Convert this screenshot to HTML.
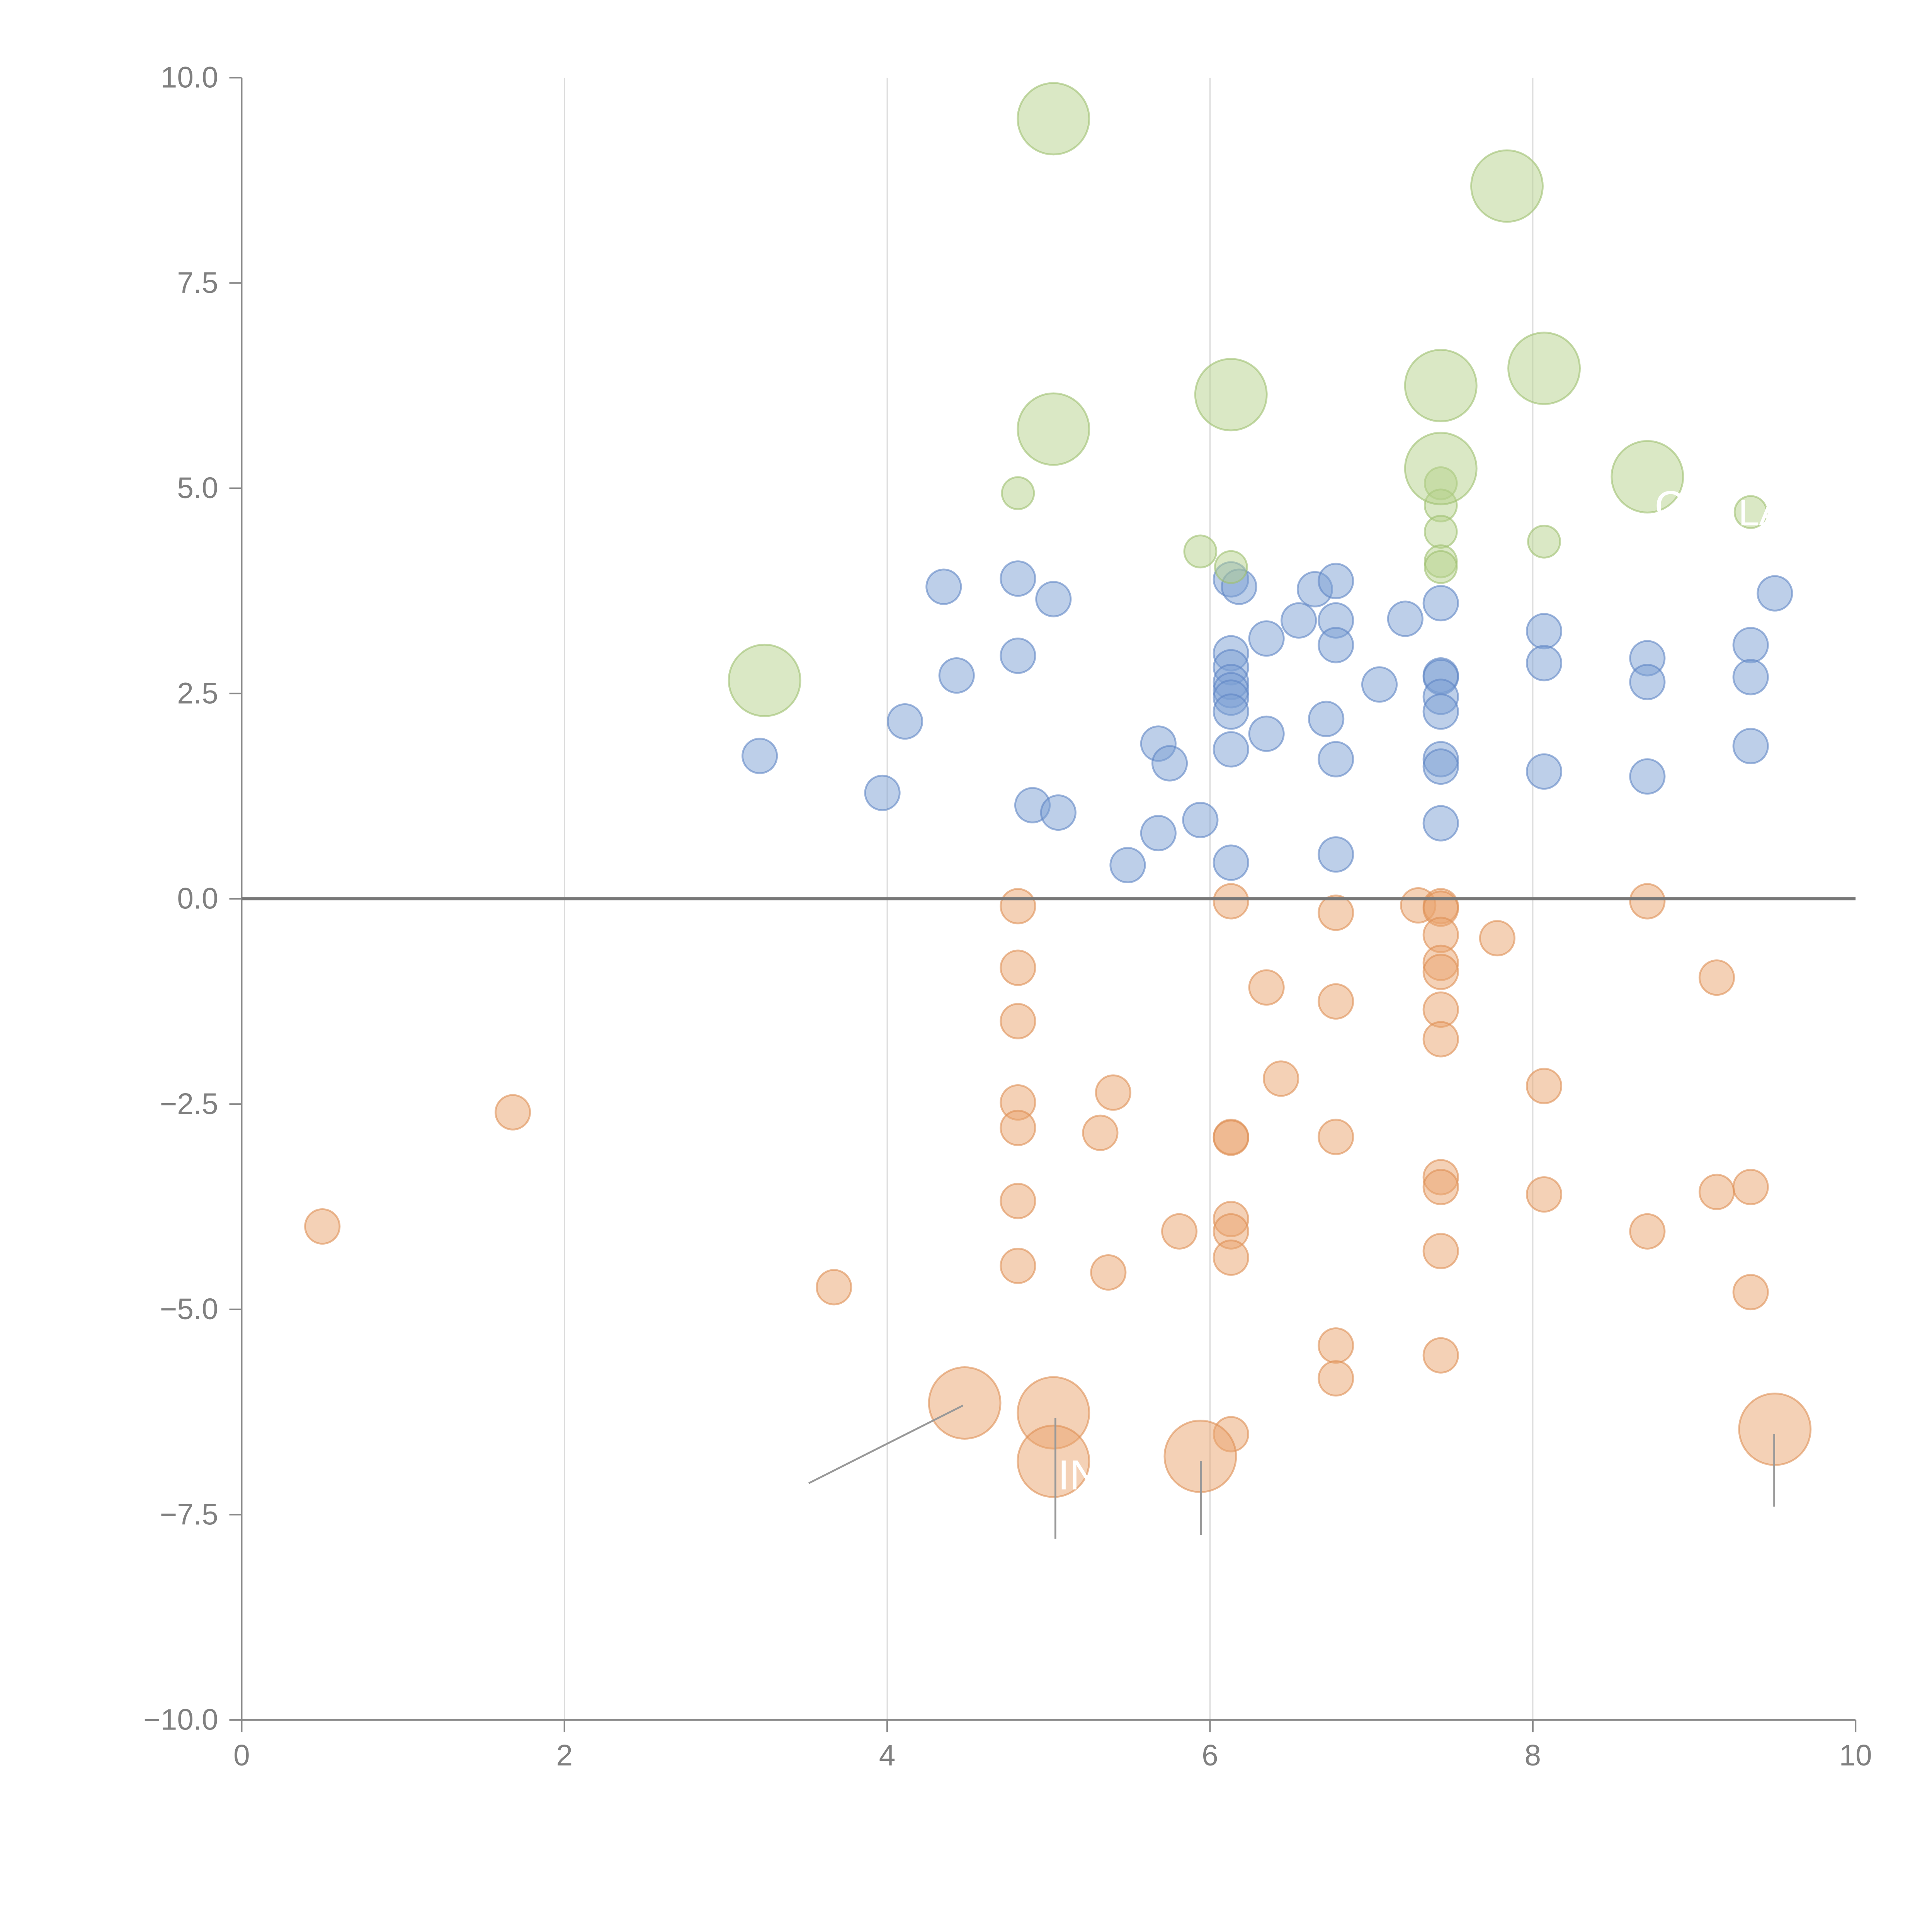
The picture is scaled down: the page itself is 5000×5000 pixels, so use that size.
<!DOCTYPE html>
<html><head><meta charset="utf-8"><style>html,body{margin:0;padding:0;background:#fff}svg{display:block}</style></head>
<body>
<svg id="chart" width="5000" height="5000" viewBox="0 0 1567 1567" xmlns="http://www.w3.org/2000/svg" font-family="'Liberation Sans', sans-serif">
<g id="grid"></g>
<g id="marks"></g>
<g id="axes"></g>
</svg>
<script>
const xTicks = [0, 2, 4, 6, 8, 10];
const yTicks = [-10, -7.5, -5, -2.5, 0, 2.5, 5, 7.5, 10];
const blueX = [3.21,3.97,4.11,4.35,4.43,4.81,4.81,5.03,4.90,5.06,5.49,5.68,5.75,5.68,5.94,6.13,6.18,6.13,6.13,6.13,6.13,6.13,6.13,6.13,6.13,6.35,6.35,6.55,6.65,6.78,6.78,6.78,6.78,6.78,6.72,7.05,7.21,7.43,7.43,7.43,7.43,7.43,7.43,7.43,7.43,8.07,8.07,8.07,8.71,8.71,8.71,9.35,9.35,9.35,9.50];
const blueY = [1.74,1.29,2.16,3.80,2.72,3.90,2.96,3.65,1.14,1.05,0.41,1.89,1.65,0.80,0.96,3.89,3.80,2.99,2.82,2.64,2.54,2.45,2.28,1.82,0.44,3.17,2.01,3.39,3.77,3.87,3.39,3.09,1.70,0.54,2.19,2.61,3.41,3.60,2.72,2.70,2.46,2.28,1.70,1.61,0.92,3.26,2.87,1.55,2.93,2.64,1.49,3.09,2.70,1.86,3.72];
const orangeX = [0.50,1.68,3.67,4.81,4.81,4.81,4.81,4.81,4.81,4.81,5.32,5.40,5.37,5.81,6.13,6.13,6.13,6.13,6.13,6.13,6.13,6.35,6.44,6.78,6.78,6.78,6.78,6.78,7.29,7.43,7.43,7.43,7.43,7.43,7.43,7.43,7.43,7.43,7.43,7.43,7.78,8.07,8.07,8.71,8.71,9.14,9.14,9.35,9.35];
const orangeY = [-3.99,-2.60,-4.73,-0.09,-0.84,-1.49,-2.48,-2.79,-3.68,-4.47,-2.85,-2.36,-4.55,-4.05,-0.03,-2.90,-2.91,-3.90,-4.05,-4.37,-6.52,-1.08,-2.19,-0.17,-1.25,-2.90,-5.44,-5.84,-0.08,-0.09,-0.12,-0.44,-0.78,-0.89,-1.35,-1.71,-3.39,-3.51,-4.29,-5.56,-0.48,-2.28,-3.60,-0.03,-4.05,-0.96,-3.57,-3.51,-4.79];
const orangeBigX = [4.48,5.03,5.03,5.94,9.50];
const orangeBigY = [-6.14,-6.26,-6.85,-6.79,-6.46];
const greenX = [4.81,5.94,6.13,7.43,7.43,7.43,7.43,7.43,8.07,9.35];
const greenY = [4.94,4.23,4.04,5.06,4.79,4.47,4.11,4.04,4.35,4.71];
const greenBigX = [5.03,7.84,6.13,7.43,8.07,5.03,7.43,8.71,3.24];
const greenBigY = [9.50,8.68,6.14,6.25,6.46,5.72,5.24,5.14,2.66];

const NS = 'http://www.w3.org/2000/svg';
const X0 = 196, X1 = 1505, YT = 63, YB = 1395;
function sx(v){ return X0 + (v - 0) / 10 * (X1 - X0); }
function sy(v){ return YB - (v + 10) / 20 * (YB - YT); }
function mk(tag, attrs, parent){ const e = document.createElementNS(NS, tag); for (const k in attrs) e.setAttribute(k, attrs[k]); parent.appendChild(e); return e; }
const grid = document.getElementById('grid'), marks = document.getElementById('marks'), axes = document.getElementById('axes');

xTicks.forEach(t => {
  if (t > 0 && t < 10) {
    const g = mk('line', {x1: sx(t), x2: sx(t), y1: YT, y2: YB, stroke: '#dcdcdc', 'stroke-width': 1}, grid);
    
    
  }
});

function drawSeries(xs, ys, r, fill, stroke, name){
  xs.forEach((x, i) => {
    const c = mk('circle', {cx: sx(x), cy: sy(ys[i]), r: r, fill: fill, 'fill-opacity': 0.5, stroke: stroke, 'stroke-opacity': 0.6, 'stroke-width': 1.5}, marks);
    
    
  });
}
drawSeries(blueX, blueY, 14, '#7b9fd3', '#5f86c4', 'bubble-positive');
drawSeries(orangeX, orangeY, 14, '#e9a36d', '#de8f55', 'bubble-negative');
drawSeries(orangeBigX, orangeBigY, 29, '#e9a36d', '#de8f55', 'bubble-negative-large');
drawSeries(greenX, greenY, 13, '#b6d18c', '#9fc06f', 'bubble-highlight');
drawSeries(greenBigX, greenBigY, 29, '#b6d18c', '#9fc06f', 'bubble-highlight-large');

[[656,1203,781,1140],[856,1150,856,1248],[974,1185,974,1245],[1439,1163,1439,1222]].forEach(l => {
  const a = mk('line', {x1:l[0], y1:l[1], x2:l[2], y2:l[3], stroke:'#999', 'stroke-width':1.5}, marks);
  
  
});
const lbl = mk('text', {x: 858, y: 1208, fill: '#fff', 'font-size': 34}, marks);
lbl.textContent = 'IN';


const lbl2 = mk('text', {x: 1342, y: 422, fill: '#fff', 'font-size': 34}, marks);
lbl2.textContent = 'C';


const lbl3 = mk('text', {x: 1410, y: 426, fill: '#fff', 'font-size': 30}, marks);
lbl3.textContent = 'LA';



const ya = mk('line', {x1: X0, x2: X0, y1: YT, y2: YB, stroke: '#888', 'stroke-width': 1.3}, axes);


const xa = mk('line', {x1: X0, x2: X1, y1: YB, y2: YB, stroke: '#888', 'stroke-width': 1.3}, axes);


const zl = mk('line', {x1: X0, x2: X1, y1: sy(0), y2: sy(0), stroke: '#777', 'stroke-width': 2.5}, axes);



yTicks.forEach(t => {
  const tk = mk('line', {x1: X0 - 10, x2: X0, y1: sy(t), y2: sy(t), stroke: '#888', 'stroke-width': 1.3}, axes);
  
  
  const tx = mk('text', {x: X0 - 19, y: sy(t) + 8, 'text-anchor': 'end', fill: '#808080', 'font-size': 24}, axes);
  tx.textContent = t.toFixed(1).replace('-', '\u2212');
  
  
});
xTicks.forEach(t => {
  const tk = mk('line', {x1: sx(t), x2: sx(t), y1: YB, y2: YB + 10, stroke: '#888', 'stroke-width': 1.3}, axes);
  
  
  const tx = mk('text', {x: sx(t), y: YB + 37, 'text-anchor': 'middle', fill: '#808080', 'font-size': 24}, axes);
  tx.textContent = String(t);
  
  
});
</script>
</body></html>
